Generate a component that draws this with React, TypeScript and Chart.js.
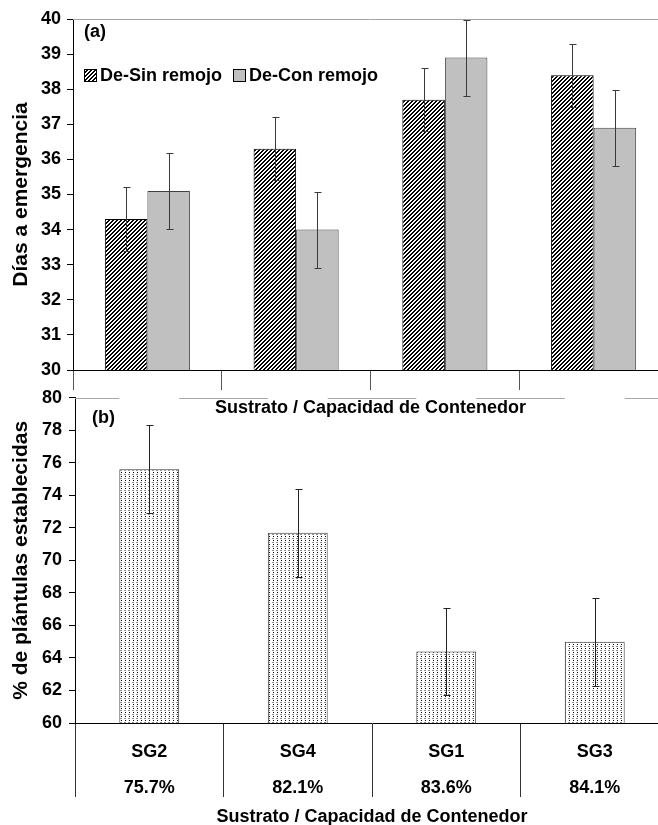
import React, { useEffect, useRef } from 'react';
import { Chart, registerables } from 'chart.js';
Chart.register(...registerables);

// ---- data ----
const categories = ['SG2', 'SG4', 'SG1', 'SG3'];
const percentLabels = ['75.7%', '82.1%', '83.6%', '84.1%'];
const seriesNames = ['De-Sin remojo', 'De-Con remojo'];
const sinRemojo = [34.3, 36.3, 37.7, 38.4];
const sinRemojoErr = [0.9, 0.9, 0.9, 0.9];
const conRemojo = [35.1, 34.0, 38.9, 36.9];
const conRemojoErr = [1.08, 1.08, 1.08, 1.08];
const establecidas = [75.6, 71.7, 64.4, 65.0];
const establecidasErr = [2.7, 2.7, 2.7, 2.7];
const yA = { min: 30, max: 40, step: 1 };
const yB = { min: 60, max: 80, step: 2 };
const titleA = 'Días a emergencia';
const titleB = '% de plántulas establecidas';
const xTitle = 'Sustrato / Capacidad de Contenedor';

const FONT = "'Liberation Sans', Arial, Helvetica, sans-serif";
const F18 = { family: FONT, size: 18, weight: 'bold' as const };
const F21 = { family: FONT, size: 21, weight: 'bold' as const };

function makeHatch(): CanvasPattern {
  const c = document.createElement('canvas');
  c.width = 4; c.height = 4;
  const ctx = c.getContext('2d')!;
  const img = ctx.createImageData(4, 4);
  for (let y = 0; y < 4; y++) {
    for (let x = 0; x < 4; x++) {
      const k = (y * 4 + x) * 4;
      const black = (x + y) % 4 < 2;
      const v = black ? 0 : 255;
      img.data[k] = v; img.data[k + 1] = v; img.data[k + 2] = v; img.data[k + 3] = 255;
    }
  }
  ctx.putImageData(img, 0, 0);
  return ctx.createPattern(c, 'repeat')!;
}

function makeDots(): CanvasPattern {
  const c = document.createElement('canvas');
  c.width = 4; c.height = 4;
  const ctx = c.getContext('2d')!;
  ctx.fillStyle = '#fff';
  ctx.fillRect(0, 0, 4, 4);
  ctx.fillStyle = '#000';
  ctx.fillRect(1, 0, 1, 1);
  ctx.fillStyle = '#8a8a8a';
  ctx.fillRect(0, 2, 2, 1);
  return ctx.createPattern(c, 'repeat')!;
}

const errorBars = (errs: number[][], color: string) => ({
  id: 'errorBars',
  afterDatasetsDraw(chart: any) {
    const { ctx } = chart;
    const ys = chart.scales.y;
    errs.forEach((e, di) => {
      const meta = chart.getDatasetMeta(di);
      const data = chart.data.datasets[di].data as number[];
      meta.data.forEach((bar: any, i: number) => {
        const x = Math.round(bar.x) + 0.5;
        const yt = Math.round(ys.getPixelForValue(data[i] + e[i])) + 0.5;
        const yb = Math.round(ys.getPixelForValue(data[i] - e[i])) + 0.5;
        ctx.save();
        ctx.strokeStyle = color;
        ctx.lineWidth = 1;
        ctx.beginPath();
        ctx.moveTo(x, yt); ctx.lineTo(x, yb);
        ctx.moveTo(x - 3, yt); ctx.lineTo(x + 4, yt);
        ctx.moveTo(x - 3, yb); ctx.lineTo(x + 4, yb);
        ctx.stroke();
        ctx.restore();
      });
    });
  },
});

const topLine = (withGaps: boolean) => ({
  id: 'topLine',
  beforeDatasetsDraw(chart: any) {
    const { ctx, chartArea } = chart;
    const y = Math.round(chartArea.top) + 0.5;
    ctx.save();
    ctx.strokeStyle = '#a6a6a6';
    ctx.lineWidth = 1;
    ctx.beginPath();
    if (!withGaps) {
      ctx.moveTo(chartArea.left, y); ctx.lineTo(chartArea.right, y);
    } else {
      let x0 = chartArea.left;
      chart.getDatasetMeta(0).data.forEach((bar: any) => {
        const half = bar.width / 2;
        ctx.moveTo(x0, y); ctx.lineTo(bar.x - half, y);
        x0 = bar.x + half;
      });
      ctx.moveTo(x0, y); ctx.lineTo(chartArea.right, y);
    }
    ctx.stroke();
    ctx.restore();
  },
});

const panelLabel = (text: string, dx: number, dy: number) => ({
  id: 'panelLabel',
  afterDraw(chart: any) {
    const { ctx, chartArea } = chart;
    ctx.save();
    ctx.font = `bold 18px ${FONT}`;
    ctx.fillStyle = '#000';
    ctx.textAlign = 'left';
    ctx.textBaseline = 'middle';
    ctx.fillText(text, chartArea.left + dx, chartArea.top + dy);
    ctx.restore();
  },
});

const legendPlugin = {
  id: 'customLegend',
  afterDraw(chart: any) {
    const { ctx } = chart;
    const y = 75;
    const starts = [84, 233];
    ctx.save();
    ctx.font = `bold 18px ${FONT}`;
    ctx.textBaseline = 'middle';
    ctx.textAlign = 'left';
    chart.data.datasets.forEach((ds: any, i: number) => {
      const bx = starts[i];
      ctx.fillStyle = ds.backgroundColor;
      ctx.fillRect(bx, y - 6, 12, 12);
      ctx.strokeStyle = '#000';
      ctx.lineWidth = 1;
      ctx.strokeRect(bx + 0.5, y - 5.5, 12, 12);
      ctx.fillStyle = '#000';
      ctx.fillText(ds.label, bx + 16, y + 1);
    });
    ctx.restore();
  },
};

export default function App() {
  const refA = useRef<HTMLCanvasElement>(null);
  const refB = useRef<HTMLCanvasElement>(null);

  useEffect(() => {
    const hatch = makeHatch();
    const dots = makeDots();

    const chartA = new Chart(refA.current!, {
      type: 'bar',
      data: {
        labels: categories,
        datasets: [
          {
            label: seriesNames[0], data: sinRemojo, backgroundColor: hatch as any,
            borderColor: '#000', borderWidth: 1, categoryPercentage: 0.572, barPercentage: 1,
          },
          {
            label: seriesNames[1], data: conRemojo, backgroundColor: '#c0c0c0',
            borderColor: '#404040', borderWidth: 1, categoryPercentage: 0.572, barPercentage: 1,
          },
        ],
      },
      options: {
        responsive: false,
        animation: false,
        devicePixelRatio: 1,
        layout: { padding: { top: 19, right: 12, left: 0, bottom: 0 } },
        plugins: { legend: { display: false }, tooltip: { enabled: false } },
        scales: {
          x: {
            grid: { offset: true, drawOnChartArea: false, tickLength: 20, tickColor: '#555', tickWidth: 1 },
            border: { color: '#000', width: 1 },
            ticks: { callback: () => '', autoSkip: false, maxRotation: 0 },
            title: { display: true, text: xTitle, font: F18, color: '#000', padding: { top: 0, bottom: 11 } },
            afterFit: (s: any) => { s.height = 60; },
          },
          y: {
            min: yA.min, max: yA.max,
            ticks: { stepSize: yA.step, font: F18, color: '#000', padding: 6 },
            grid: { drawOnChartArea: false, tickLength: 6, tickColor: '#000' },
            border: { color: '#000', width: 1 },
            title: { display: true, text: titleA, font: F21, color: '#000', padding: { top: 9, bottom: 0 } },
            afterFit: (s: any) => { s.width = 73; },
          },
        },
      } as any,
      plugins: [
        topLine(false),
        errorBars([sinRemojoErr, conRemojoErr], '#3a3a3a'),
        legendPlugin,
        panelLabel('(a)', 11, 13),
      ],
    });

    const chartB = new Chart(refB.current!, {
      type: 'bar',
      data: {
        labels: categories.map((c, i) => [c, percentLabels[i]]),
        datasets: [
          {
            label: titleB, data: establecidas, backgroundColor: dots as any,
            borderColor: '#333', borderWidth: 1, categoryPercentage: 0.403, barPercentage: 1,
          },
        ],
      },
      options: {
        responsive: false,
        animation: false,
        devicePixelRatio: 1,
        layout: { padding: { top: 14, right: 11, left: 0, bottom: 0 } },
        plugins: { legend: { display: false }, tooltip: { enabled: false } },
        scales: {
          x: {
            grid: { offset: true, drawOnChartArea: false, tickLength: 74, tickColor: '#333', tickWidth: 1 },
            border: { color: '#000', width: 1 },
            ticks: {
              autoSkip: false, maxRotation: 0, padding: -63, color: '#000',
              font: { family: FONT, size: 18, weight: 'bold', lineHeight: 2 },
            },
            title: { display: true, text: xTitle, font: F18, color: '#000', padding: { top: 0, bottom: -3 } },
            afterFit: (s: any) => { s.height = 102; },
          },
          y: {
            min: yB.min, max: yB.max,
            ticks: { stepSize: yB.step, font: F18, color: '#000', padding: 7 },
            grid: { drawOnChartArea: false, tickLength: 6, tickColor: '#000' },
            border: { color: '#000', width: 1 },
            title: { display: true, text: titleB, font: F21, color: '#000', padding: { top: 9, bottom: 0 } },
            afterFit: (s: any) => { s.width = 75; },
          },
        },
      } as any,
      plugins: [
        topLine(true),
        errorBars([establecidasErr], '#222'),
        panelLabel('(b)', 17, 20),
      ],
    });

    return () => { chartA.destroy(); chartB.destroy(); };
  }, []);

  return (
    <div style={{ position: 'fixed', left: 0, top: 0, width: 658, height: 825, overflow: 'hidden', background: '#fff' }}>
      <canvas ref={refA} width={680} height={430} style={{ position: 'absolute', left: 0, top: 0 }} />
      <canvas ref={refB} width={680} height={445} style={{ position: 'absolute', left: 0, top: 380 }} />
    </div>
  );
}
